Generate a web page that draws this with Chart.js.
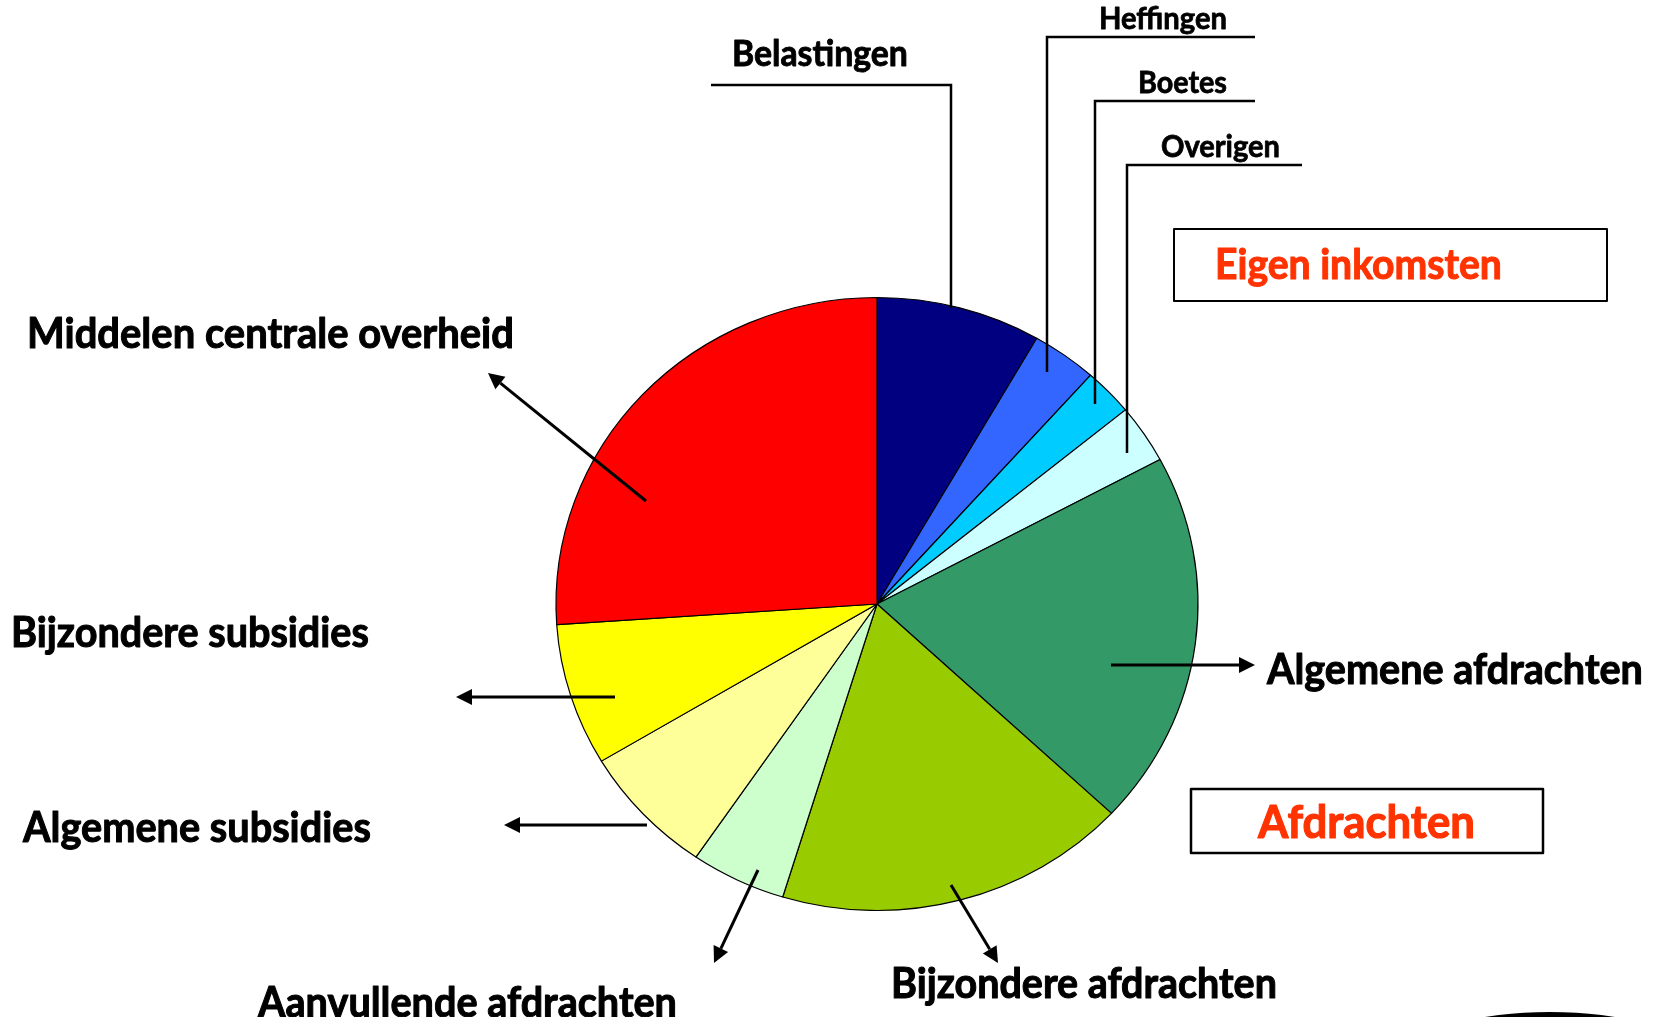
<!DOCTYPE html>
<html>
<head>
<meta charset="utf-8">
<title>Inkomsten</title>
<script src="https://cdn.jsdelivr.net/npm/chart.js@4.4.0/dist/chart.umd.min.js"></script>
<style>
    html, body { margin: 0; padding: 0; background: #fff; overflow: hidden; }
    #wrap { width: 1663px; height: 1017px; position: relative; }
</style>
</head>
<body>
<div id="wrap"><canvas id="pie"></canvas></div>
<script>
// 1. DATA (share of the total in %)
const categories = [
    'Belastingen', 'Heffingen', 'Boetes', 'Overigen',
    'Algemene afdrachten', 'Bijzondere afdrachten', 'Aanvullende afdrachten',
    'Algemene subsidies', 'Bijzondere subsidies', 'Middelen centrale overheid'
];
const shares = [8.3, 3.3, 2.5, 3.1, 19.8, 17.8, 4.8, 6.9, 7.5, 26.1];
const sliceColors = [
    '#000080', '#3366ff', '#00ccff', '#ccffff',
    '#339966', '#99cc00', '#ccffcc',
    '#ffff99', '#ffff00', '#ff0000'
];
const groupTitles = ['Eigen inkomsten', 'Afdrachten'];

// 2. ANNOTATION LAYOUT (pixels)
const leaders = [
    { i: 0, tx: 732,  ty: 66,  tw: 176, hy: 85,  hx1: 711,  hx2: 951,  vx: 951,  vy: 308 },
    { i: 1, tx: 1099, ty: 29,  tw: 128, hy: 37,  hx1: 1047, hx2: 1255, vx: 1047, vy: 372 },
    { i: 2, tx: 1138, ty: 93,  tw: 89,  hy: 101, hx1: 1095, hx2: 1255, vx: 1095, vy: 404 },
    { i: 3, tx: 1161, ty: 157, tw: 119, hy: 165, hx1: 1127, hx2: 1302, vx: 1127, vy: 453 }
];
const arrows = [
    { i: 4, from: [1111, 665], to: [1255, 665], tx: 1267, ty: 684,  tw: 376 },
    { i: 5, from: [951, 885],  to: [998, 963],  tx: 891,  ty: 998,  tw: 386 },
    { i: 6, from: [758, 870],  to: [714, 963],  tx: 258,  ty: 1017, tw: 419 },
    { i: 7, from: [647, 825],  to: [504, 825],  tx: 23,   ty: 842,  tw: 348 },
    { i: 8, from: [615, 697],  to: [456, 697],  tx: 11,   ty: 647,  tw: 358 },
    { i: 9, from: [646, 501],  to: [488, 373],  tx: 27,   ty: 348,  tw: 487 }
];
const boxes = [
    { g: 0, x: 1174, y: 229, w: 433, h: 72, lw: 2,   tx: 1215, ty: 279, tw: 287 },
    { g: 1, x: 1191, y: 789, w: 352, h: 64, lw: 2.5, tx: 1258, ty: 838, tw: 217 }
];

const FONT = 'Lato, "Open Sans", sans-serif';

// Lato is close to Calibri; scale it to the width seen in the picture
function fitText(ctx, text, x, y, width, color) {
    ctx.font = `bold 40px ${FONT}`;
    const size = 40 * width / ctx.measureText(text).width;
    ctx.font = `bold ${size}px ${FONT}`;
    ctx.fillStyle = color;
    ctx.strokeStyle = color;
    ctx.lineWidth = size / 40;
    ctx.lineJoin = 'round';
    ctx.textAlign = 'left';
    ctx.textBaseline = 'alphabetic';
    ctx.save();
    ctx.translate(x, y);
    ctx.scale(1, 1.06);
    ctx.fillText(text, 0, 0);
    ctx.strokeText(text, 0, 0);
    ctx.restore();
}

function drawArrow(ctx, from, to) {
    const ang = Math.atan2(to[1] - from[1], to[0] - from[0]);
    const head = 16, half = 8;
    const bx = to[0] - head * Math.cos(ang), by = to[1] - head * Math.sin(ang);
    ctx.strokeStyle = '#000';
    ctx.lineWidth = 3;
    ctx.beginPath();
    ctx.moveTo(from[0], from[1]);
    ctx.lineTo(bx, by);
    ctx.stroke();
    ctx.fillStyle = '#000';
    ctx.beginPath();
    ctx.moveTo(to[0], to[1]);
    ctx.lineTo(bx + half * Math.sin(ang), by - half * Math.cos(ang));
    ctx.lineTo(bx - half * Math.sin(ang), by + half * Math.cos(ang));
    ctx.closePath();
    ctx.fill();
}

// the pie in the picture is a little flatter than it is wide
const SQUASH = 306.5 / 321;

const ovalPie = {
    id: 'ovalPie',
    beforeDatasetsDraw(chart) {
        const arc = chart.getDatasetMeta(0).data[0];
        const ctx = chart.ctx;
        ctx.save();
        ctx.translate(arc.x, arc.y);
        ctx.scale(1, SQUASH);
        ctx.translate(-arc.x, -arc.y);
    },
    afterDatasetsDraw(chart) {
        chart.ctx.restore();
    }
};

const annotations = {
    id: 'annotations',
    afterDraw(chart) {
        const ctx = chart.ctx;
        ctx.save();

        // leader lines for the small slices
        leaders.forEach(l => {
            ctx.strokeStyle = '#000';
            ctx.lineWidth = 2.5;
            ctx.lineCap = 'butt';
            ctx.beginPath();
            ctx.moveTo(l.hx1, l.hy);
            ctx.lineTo(l.hx2, l.hy);
            ctx.moveTo(l.vx, l.hy - 1.25);
            ctx.lineTo(l.vx, l.vy);
            ctx.stroke();
            fitText(ctx, categories[l.i], l.tx, l.ty, l.tw, '#000');
        });

        arrows.forEach(a => {
            drawArrow(ctx, a.from, a.to);
            fitText(ctx, categories[a.i], a.tx, a.ty, a.tw, '#000');
        });

        boxes.forEach(b => {
            ctx.strokeStyle = '#000';
            ctx.lineWidth = b.lw;
            ctx.strokeRect(b.x, b.y, b.w, b.h);
            fitText(ctx, groupTitles[b.g], b.tx, b.ty, b.tw, '#ff3300');
        });

        // dark oval peeking in at the bottom right
        ctx.fillStyle = '#000';
        ctx.beginPath();
        ctx.ellipse(1550, 1052, 134, 40, 0, 0, Math.PI * 2);
        ctx.fill();

        ctx.restore();
    }
};

new Chart(document.getElementById('pie'), {
    type: 'pie',
    data: {
        labels: categories,
        datasets: [{
            data: shares,
            backgroundColor: sliceColors,
            borderColor: '#000',
            borderWidth: 1.2,
            radius: 321
        }]
    },
    options: {
        responsive: true,
        maintainAspectRatio: false,
        animation: false,
        layout: { padding: { left: 300, right: 209, top: 250, bottom: 59 } },
        plugins: {
            legend: { display: false },
            tooltip: { enabled: false }
        }
    },
    plugins: [ovalPie, annotations]
});
</script>
</body>
</html>
